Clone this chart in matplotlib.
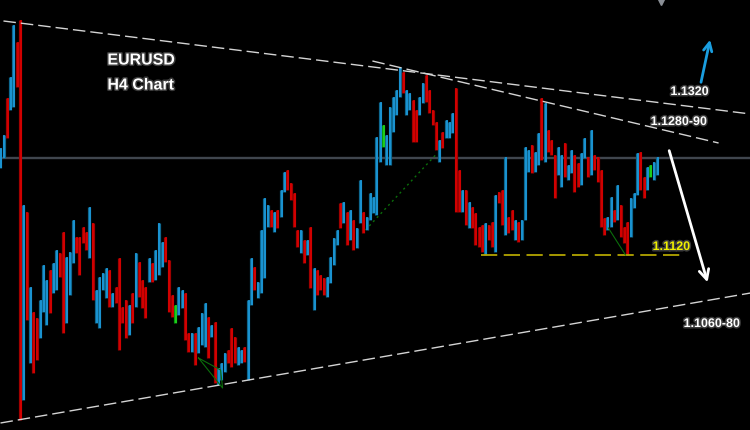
import matplotlib
matplotlib.use("Agg")
import matplotlib.pyplot as plt
import matplotlib.patheffects as pe
import numpy as np

# ---- data: H4 bars (high / low / direction) ----
high = [1.1227, 1.1240, 1.1277, 1.1298, 1.1350, 1.1333, 1.1355, 1.1170, 1.1163, 1.1088,
        1.1063, 1.1057, 1.1075, 1.1110, 1.1095, 1.1105, 1.1112, 1.1125, 1.1122, 1.1143,
        1.1118, 1.1123, 1.1155, 1.1138, 1.1138, 1.1148, 1.1143, 1.1168, 1.1152, 1.1085,
        1.1098, 1.1102, 1.1107, 1.1105, 1.1082, 1.1088, 1.1117, 1.1068, 1.1075, 1.1070,
        1.1082, 1.1122, 1.1113, 1.1095, 1.1088, 1.1117, 1.1112, 1.1125, 1.1152, 1.1133,
        1.1138, 1.1115, 1.1080, 1.1070, 1.1088, 1.1085, 1.1082, 1.1042, 1.1042, 1.1042,
        1.1048, 1.1062, 1.1072, 1.1058, 1.1050, 1.1053, 1.1007, 1.1012, 1.1022, 1.1025,
        1.1047, 1.1038, 1.1028, 1.1025, 1.1028, 1.1075, 1.1117, 1.1108, 1.1093, 1.1145,
        1.1177, 1.1170, 1.1165, 1.1163, 1.1165, 1.1185, 1.1203, 1.1205, 1.1192, 1.1182,
        1.1145, 1.1145, 1.1135, 1.1135, 1.1148, 1.1107, 1.1105, 1.1100, 1.1097, 1.1098,
        1.1118, 1.1137, 1.1145, 1.1172, 1.1173, 1.1163, 1.1165, 1.1155, 1.1147, 1.1195,
        1.1163, 1.1158, 1.1182, 1.1178, 1.1238, 1.1273, 1.1250, 1.1240, 1.1268, 1.1278,
        1.1285, 1.1308, 1.1303, 1.1285, 1.1282, 1.1275, 1.1265, 1.1278, 1.1292, 1.1300,
        1.1285, 1.1265, 1.1253, 1.1235, 1.1243, 1.1255, 1.1253, 1.1262, 1.1287, 1.1205,
        1.1185, 1.1185, 1.1173, 1.1168, 1.1162, 1.1148, 1.1150, 1.1152, 1.1150, 1.1153,
        1.1180, 1.1183, 1.1185, 1.1218, 1.1158, 1.1165, 1.1155, 1.1153, 1.1155, 1.1228,
        1.1225, 1.1230, 1.1223, 1.1242, 1.1277, 1.1272, 1.1245, 1.1235, 1.1220, 1.1228,
        1.1220, 1.1232, 1.1210, 1.1225, 1.1220, 1.1212, 1.1222, 1.1237, 1.1218, 1.1245,
        1.1220, 1.1218, 1.1205, 1.1157, 1.1158, 1.1178, 1.1165, 1.1190, 1.1170, 1.1148,
        1.1153, 1.1177, 1.1182, 1.1222, 1.1223, 1.1198, 1.1208, 1.1210, 1.1213, 1.1218]

low = [1.1207, 1.1217, 1.1237, 1.1265, 1.1268, 1.1288, 1.0955, 1.0975, 1.1055, 1.1012,
       1.1002, 1.1015, 1.1037, 1.1063, 1.1050, 1.1062, 1.1082, 1.1085, 1.1098, 1.1042,
       1.1052, 1.1080, 1.1112, 1.1122, 1.1100, 1.1132, 1.1125, 1.1117, 1.1075, 1.1052,
       1.1047, 1.1085, 1.1077, 1.1068, 1.1068, 1.1072, 1.1025, 1.1052, 1.1037, 1.1040,
       1.1052, 1.1068, 1.1078, 1.1067, 1.1057, 1.1093, 1.1093, 1.1095, 1.1100, 1.1108,
       1.1113, 1.1063, 1.1058, 1.1052, 1.1060, 1.1067, 1.1035, 1.1023, 1.1023, 1.1010,
       1.1022, 1.1030, 1.1028, 1.1017, 1.1038, 1.0992, 1.0990, 1.0995, 1.1003, 1.1012,
       1.1008, 1.1012, 1.1010, 1.1012, 1.1013, 1.0995, 1.1070, 1.1085, 1.1077, 1.1082,
       1.1097, 1.1148, 1.1148, 1.1143, 1.1147, 1.1158, 1.1183, 1.1185, 1.1175, 1.1148,
       1.1128, 1.1122, 1.1112, 1.1120, 1.1087, 1.1065, 1.1080, 1.1085, 1.1080, 1.1078,
       1.1092, 1.1110, 1.1130, 1.1147, 1.1152, 1.1130, 1.1135, 1.1125, 1.1127, 1.1152,
       1.1142, 1.1145, 1.1155, 1.1162, 1.1160, 1.1213, 1.1228, 1.1210, 1.1210, 1.1243,
       1.1260, 1.1278, 1.1282, 1.1260, 1.1265, 1.1233, 1.1233, 1.1260, 1.1272, 1.1273,
       1.1262, 1.1250, 1.1225, 1.1213, 1.1227, 1.1237, 1.1237, 1.1242, 1.1163, 1.1163,
       1.1163, 1.1150, 1.1147, 1.1147, 1.1130, 1.1128, 1.1123, 1.1120, 1.1135, 1.1128,
       1.1123, 1.1172, 1.1150, 1.1140, 1.1142, 1.1145, 1.1135, 1.1133, 1.1135, 1.1155,
       1.1203, 1.1202, 1.1203, 1.1210, 1.1215, 1.1213, 1.1223, 1.1220, 1.1177, 1.1200,
       1.1188, 1.1198, 1.1195, 1.1202, 1.1183, 1.1188, 1.1190, 1.1217, 1.1198, 1.1200,
       1.1205, 1.1193, 1.1148, 1.1140, 1.1145, 1.1148, 1.1153, 1.1155, 1.1138, 1.1132,
       1.1120, 1.1138, 1.1167, 1.1180, 1.1185, 1.1177, 1.1185, 1.1198, 1.1195, 1.1200]

direction = ("BBRBBRRBRB" "RRBBBRBBRR" "BBBRRRRBRB" "BBBRBRRRRB" "RBRRRBRBBB"
             "RRRGBBRRBR" "BBBRBRBBBR" "RRBBRBBRBB" "BBRBRBBRRR" "RBRBRBRRRB"
             "BBBRBRBRBB" "RBBBBBGBBB" "BBRBBRRBBR" "RRRBRBBBRR" "BRBRRRRBRR"
             "BRRBRRBRBB" "BRBBRBRRRB" "BRBBRRBBRB" "RRRRBBRBRR" "RBBBRRBGBB")

current_price = 1.1217
support_level = 1.1120

# trend lines: (bar index start, price start, bar index end, price end)
upper_trend = (0.9, 1.1354, 227.3, 1.1261)
inner_trend = (112.7, 1.1314, 217.6, 1.1232)
lower_trend = (0.0, 1.0952, 227.3, 1.1082)
support_span = (145.5, 207.3)

labels = ["1.1320", "1.1280-90", "1.1120", "1.1060-80"]
label_pos = [(203.0, 1.1283), (197.0, 1.1253), (197.6, 1.1128), (207.0, 1.1051)]
label_colors = ["white", "white", "#f0f000", "white"]

# ---- figure ----
fig = plt.figure(figsize=(7.5, 4.3), dpi=100, facecolor="black")
ax = fig.add_axes([0, 0, 1, 1])
ax.set_facecolor("black")
ax.set_xlim(-0.15, 227.12)
ax.set_ylim(1.0945, 1.1375)
ax.set_axis_off()
fig.patch.set_facecolor("black")

# current price line
ax.axhline(current_price, color="#40464e", lw=1.7, zorder=1)

x = np.arange(len(high))
cmap_dark = {"B": "#0e6890", "R": "#a00000", "G": "#0a9a0a"}
cmap_bright = {"B": "#1ea0e4", "R": "#e00000", "G": "#22dd22"}
ax.vlines(x - 0.08, low, high, colors=[cmap_dark[d] for d in direction], lw=2.3, zorder=3)
ax.vlines(x + 0.18, low, high, colors=[cmap_bright[d] for d in direction], lw=1.1, zorder=4)

dash = (0, (9, 3.6))
for (x0, y0, x1, y1) in (upper_trend, inner_trend, lower_trend):
    ax.plot([x0, x1], [y0, y1], color="#d4d4d4", lw=1.0, linestyle=dash, zorder=5)

ax.plot(support_span, [support_level, support_level], color="#b3a400", lw=1.3,
        linestyle=dash, zorder=5)

# green helper lines
ax.plot([110.6, 132.4], [1.1145, 1.1222], color="#0b6e0b", lw=1.0, linestyle=(0, (1.5, 2.5)), zorder=2)
ax.plot([60.0, 67.3, 66.7, 60.0], [1.1017, 1.0987, 1.1005, 1.1017], color="#0b6e0b", lw=0.8, zorder=6)
ax.plot([184.2, 189.4], [1.1147, 1.1120], color="#0b6e0b", lw=0.8, zorder=6)

# small marker at top
ax.plot([200.0], [1.1373], marker="v", color="#8a8f96", markersize=5, zorder=6)

# arrows
ax.annotate("", xy=(214.5, 1.1090), xytext=(202.4, 1.1227),
            arrowprops=dict(arrowstyle="->,head_length=0.7,head_width=0.35", color="white", lw=2.0))
ax.annotate("", xy=(215.2, 1.1338), xytext=(212.1, 1.1290),
            arrowprops=dict(arrowstyle="->,head_length=0.6,head_width=0.3", color="#1a9ee0", lw=2.0))

stroke = [pe.withStroke(linewidth=2.2, foreground="#3a3a3a")]
ax.text(32.4, 1.1315, "EURUSD", color="white", fontsize=11.5, fontweight="bold",
        family="Liberation Sans", ha="left", va="center", path_effects=stroke)
ax.text(32.4, 1.1290, "H4 Chart", color="white", fontsize=11.5, fontweight="bold",
        family="Liberation Sans", ha="left", va="center", path_effects=stroke)
for t, (lx, ly), c in zip(labels, label_pos, label_colors):
    ax.text(lx, ly, t, color=c, fontsize=9, fontweight="bold", family="Liberation Sans",
            ha="left", va="center", path_effects=stroke)

fig.savefig("out.png", dpi=100, facecolor="black")
